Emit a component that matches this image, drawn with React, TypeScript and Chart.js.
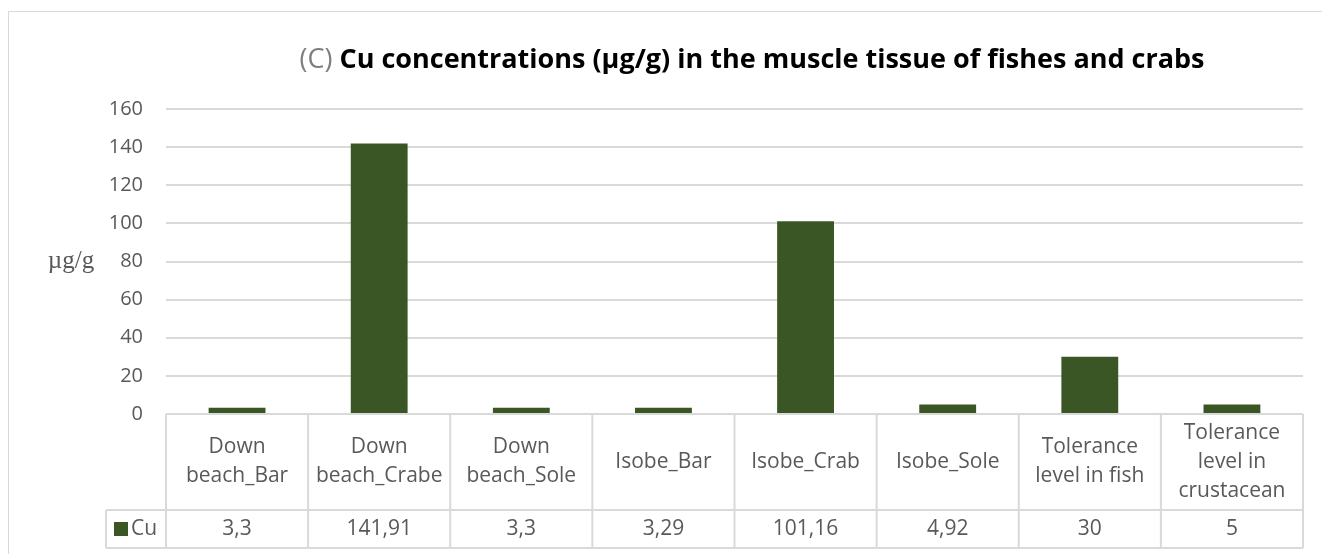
import React, { useEffect, useRef } from "react";
import { Chart, registerables } from "chart.js";

Chart.register(...registerables);

// ---- data ----
const categoryLines: string[][] = [
  ["Down", "beach_Bar"],
  ["Down", "beach_Crabe"],
  ["Down", "beach_Sole"],
  ["Isobe_Bar"],
  ["Isobe_Crab"],
  ["Isobe_Sole"],
  ["Tolerance", "level in fish"],
  ["Tolerance", "level in", "crustacean"],
];
const categories = categoryLines.map((l) => l.join(" "));
const seriesName = "Cu";
const cuValues = [3.3, 141.91, 3.3, 3.29, 101.16, 4.92, 30, 5];
const yMin = 0;
const yMax = 160;
const yStep = 20;

const titlePrefix = "(C) ";
const titleMain = "Cu concentrations (µg/g) in the muscle tissue of fishes and crabs";
const yAxisTitle = "µg/g";

// ---- style ----
const BAR = "#3a5624";
const GRID = "#d9d9d9";
const TEXT = "#595959";
const FONT = "'Open Sans', sans-serif";

const fmt = (v: number) => String(v).replace(".", ",");

const excelPlugin = {
  id: "excelLook",
  beforeDraw(chart: any) {
    const ctx = chart.ctx;
    ctx.save();
    ctx.strokeStyle = GRID;
    ctx.lineWidth = 1;
    ctx.strokeRect(8.5, 11.5, 1400, 700);
    ctx.restore();
  },
  afterDraw(chart: any) {
    const ctx = chart.ctx;
    const { left, right, top, bottom } = chart.chartArea;
    const xs = chart.scales.x;
    const n = categories.length;
    const headTop = bottom;
    const headBot = bottom + 96;
    const valBot = headBot + 38;
    const legendLeft = 106;

    ctx.save();
    // table lines
    ctx.strokeStyle = GRID;
    ctx.lineWidth = 2;
    ctx.beginPath();
    ctx.moveTo(left, headTop);
    ctx.lineTo(right, headTop);
    ctx.moveTo(legendLeft, headBot);
    ctx.lineTo(right, headBot);
    ctx.moveTo(legendLeft, valBot);
    ctx.lineTo(right, valBot);
    for (let i = 0; i <= n; i++) {
      const x = xs.getPixelForValue(i - 0.5);
      ctx.moveTo(x, headTop);
      ctx.lineTo(x, valBot);
    }
    ctx.moveTo(legendLeft, headBot);
    ctx.lineTo(legendLeft, valBot);
    ctx.stroke();

    // header labels
    ctx.fillStyle = TEXT;
    ctx.font = `21px ${FONT}`;
    ctx.textAlign = "center";
    ctx.textBaseline = "middle";
    const lh = 29;
    const headMid = (headTop + headBot) / 2;
    const valMid = (headBot + valBot) / 2;
    categoryLines.forEach((lines, i) => {
      const cx = xs.getPixelForValue(i);
      const y0 = headMid - ((lines.length - 1) * lh) / 2;
      lines.forEach((t, j) => ctx.fillText(t, cx, y0 + j * lh));
      ctx.fillText(fmt(cuValues[i]), cx, valMid);
    });

    // legend key
    ctx.fillStyle = BAR;
    ctx.fillRect(114, valMid - 7, 14, 14);
    ctx.fillStyle = TEXT;
    ctx.textAlign = "left";
    ctx.fillText(seriesName, 131, valMid);

    // y axis title (horizontal)
    ctx.font = `25px 'Liberation Serif', serif`;
    ctx.textAlign = "center";
    ctx.fillText(yAxisTitle, 71, (top + bottom) / 2);

    // chart title
    const baseY = 68;
    const size = 27;
    ctx.textBaseline = "alphabetic";
    ctx.font = `${size}px ${FONT}`;
    const w1 = ctx.measureText(titlePrefix).width;
    ctx.font = `bold ${size}px ${FONT}`;
    const w2 = ctx.measureText(titleMain).width;
    const startX = 752 - (w1 + w2) / 2;
    ctx.textAlign = "left";
    ctx.font = `${size}px ${FONT}`;
    ctx.fillStyle = "#7f7f7f";
    ctx.fillText(titlePrefix, startX, baseY);
    ctx.font = `bold ${size}px ${FONT}`;
    ctx.fillStyle = "#000000";
    ctx.fillText(titleMain, startX + w1, baseY);
    ctx.restore();
  },
};

export default function App() {
  const ref = useRef<HTMLCanvasElement | null>(null);
  useEffect(() => {
    if (!ref.current) return;
    const chart = new Chart(ref.current, {
      type: "bar",
      data: {
        labels: categories,
        datasets: [
          {
            label: seriesName,
            data: cuValues,
            backgroundColor: BAR,
            borderWidth: 0,
            barPercentage: 0.4,
            categoryPercentage: 1,
          },
        ],
      },
      options: {
        responsive: false,
        animation: false,
        devicePixelRatio: 1,
        layout: { padding: { left: 0, top: 109, right: 19, bottom: 140 } },
        plugins: {
          legend: { display: false },
          title: { display: false },
          tooltip: { enabled: false },
        },
        scales: {
          x: { display: false, offset: true },
          y: {
            min: yMin,
            max: yMax,
            border: { display: false },
            grid: { color: GRID, lineWidth: 2, drawTicks: false },
            ticks: {
              stepSize: yStep,
              color: TEXT,
              padding: 23,
              font: { family: FONT, size: 20 },
            },
            afterFit: (s: any) => {
              s.width = 166;
            },
          },
        },
      },
      plugins: [excelPlugin],
    });
    return () => chart.destroy();
  }, []);
  return (
    <canvas
      ref={ref}
      width={1322}
      height={554}
      style={{ position: "absolute", left: 0, top: 0, width: 1322, height: 554 }}
    />
  );
}
